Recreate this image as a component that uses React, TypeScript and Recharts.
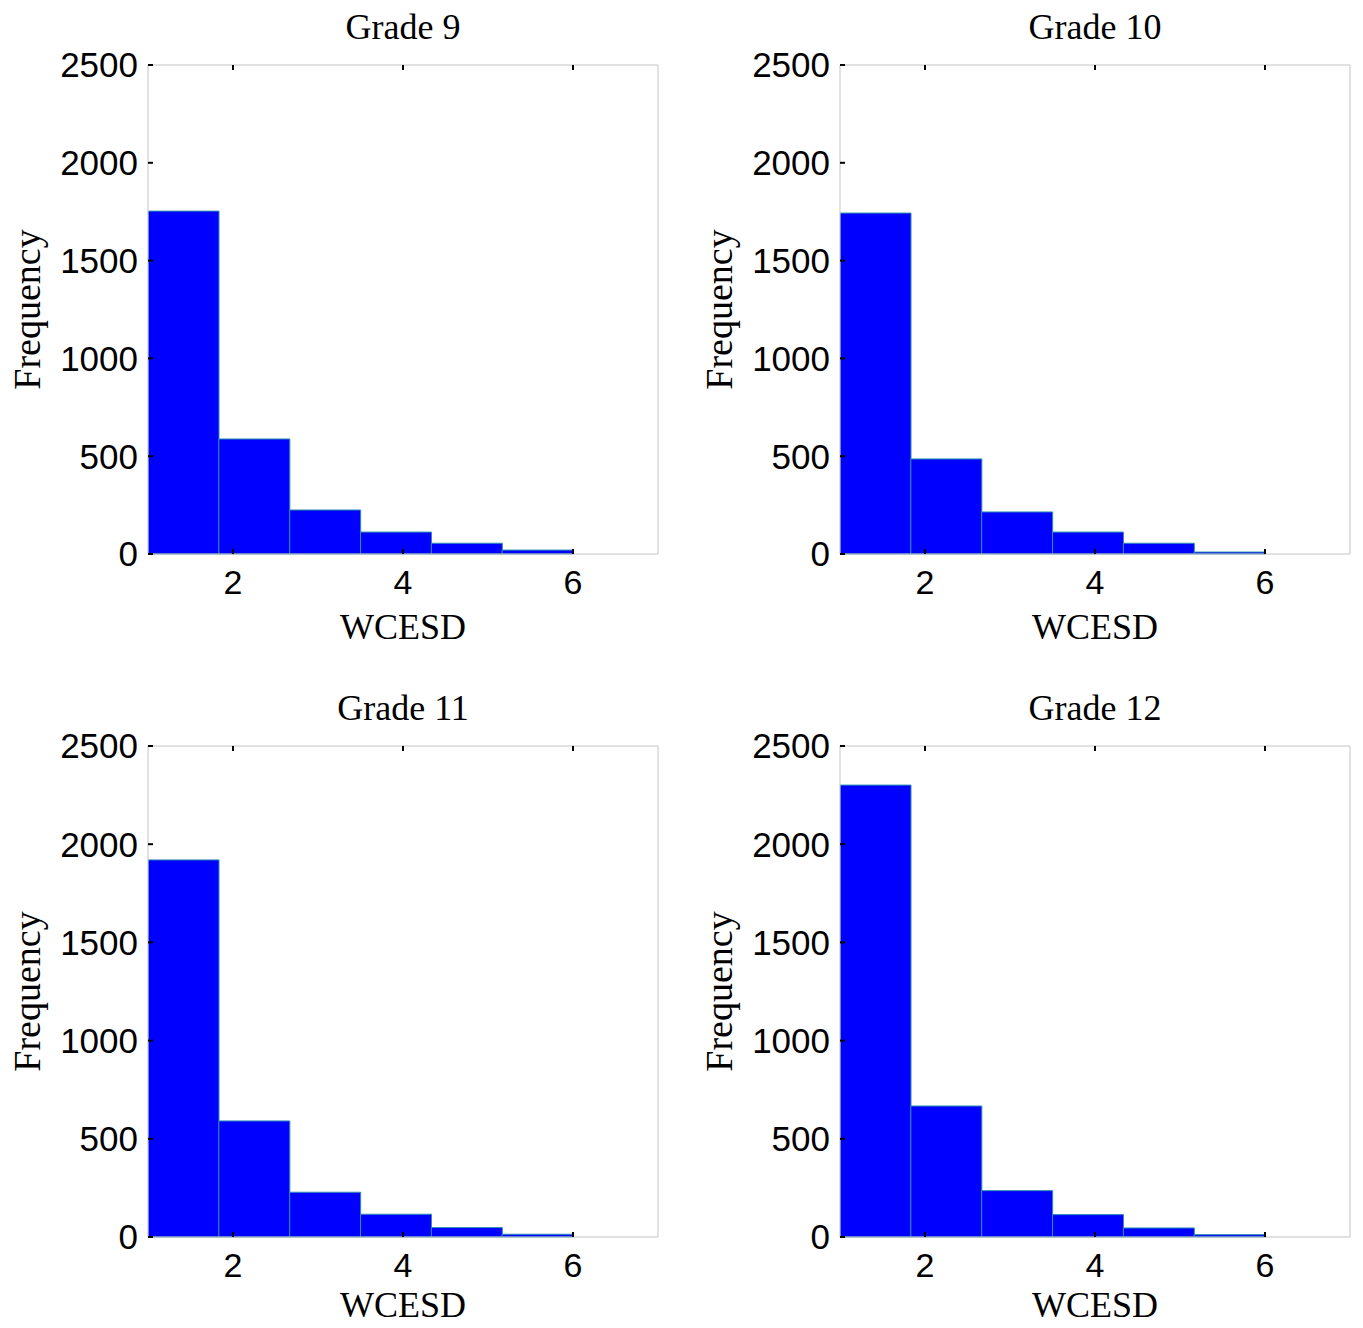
import React from "react";
import {
  ComposedChart,
  Bar,
  XAxis,
  YAxis,
} from "recharts";

// bin centres of the 6 WCESD bins (1 .. 6)
const binCenters = [1.4167, 2.25, 3.0833, 3.9167, 4.75, 5.5833];

const grade9 = [1753, 588, 225, 112, 55, 20];
const grade10 = [1743, 486, 215, 112, 55, 10];
const grade11 = [1920, 591, 228, 116, 48, 14];
const grade12 = [2301, 667, 236, 114, 46, 12];

const xTicks = [2, 4, 6];
const yTicks = [0, 500, 1000, 1500, 2000, 2500];

const SERIF = '"Liberation Serif", "Times New Roman", serif';
const SANS = '"Liberation Sans", Arial, sans-serif';

const frame = { stroke: "#c4c4c4", strokeWidth: 1 };
const tickMark = { stroke: "#000", strokeWidth: 2 };

// the box axes carry tick marks but no labels
const NoLabel = () => <g />;

interface PanelProps {
  title: string;
  values: number[];
  left: number;
  top: number;
  plotHeight: number;
  bottomPad: number;
  labelOffset: number;
}

function Panel({ title, values, left, top, plotHeight, bottomPad, labelOffset }: PanelProps) {
  const data = binCenters.map((x, i) => ({ x, count: values[i] }));
  const width = 670;
  const height = 65 + plotHeight + 88 + bottomPad;

  return (
    <div style={{ position: "absolute", left, top, width, height }}>
      <div
        style={{
          position: "absolute",
          left: 148,
          width: 510,
          top: 65 - 38 - 18,
          textAlign: "center",
          fontFamily: SERIF,
          fontSize: 36,
          lineHeight: "36px",
        }}
      >
        {title}
      </div>
      <ComposedChart
        width={width}
        height={height}
        data={data}
        margin={{ top: 64, right: 11, bottom: bottomPad, left: 0 }}
        barCategoryGap={0}
        barGap={0}
      >
        <XAxis
          xAxisId="bottom"
          dataKey="x"
          type="number"
          domain={[1, 7]}
          ticks={xTicks}
          allowDataOverflow
          height={88}
          axisLine={frame}
          tickLine={tickMark}
          tickSize={-5}
          tickMargin={21}
          tick={{ fill: "#000", fontSize: 34, fontFamily: SANS }}
          label={{
            value: "WCESD",
            position: "insideBottom",
            offset: labelOffset,
            style: { fill: "#000", fontSize: 36, fontFamily: SERIF },
          }}
        />
        <XAxis
          xAxisId="top"
          orientation="top"
          dataKey="x"
          type="number"
          domain={[1, 7]}
          ticks={xTicks}
          height={1}
          axisLine={frame}
          tickLine={tickMark}
          tickSize={-5}
          tick={NoLabel}
        />
        <YAxis
          yAxisId="left"
          domain={[0, 2500]}
          ticks={yTicks}
          width={148}
          axisLine={frame}
          tickLine={tickMark}
          tickSize={-5}
          tickMargin={15}
          tick={{ fill: "#000", fontSize: 35, fontFamily: SANS }}
          label={{
            value: "Frequency",
            angle: -90,
            position: "insideLeft",
            offset: 27,
            style: {
              textAnchor: "middle",
              fill: "#000",
              fontSize: 38,
              fontFamily: SERIF,
            },
          }}
        />
        <YAxis
          yAxisId="right"
          orientation="right"
          domain={[0, 2500]}
          ticks={yTicks}
          width={1}
          axisLine={frame}
          tickLine={tickMark}
          tickSize={-5}
          tick={NoLabel}
        />
        <Bar
          xAxisId="bottom"
          yAxisId="left"
          dataKey="count"
          fill="#0000ff"
          stroke="#2f8fb0"
          strokeWidth={1}
          isAnimationActive={false}
        />
      </ComposedChart>
    </div>
  );
}

export default function App() {
  return (
    <div
      style={{
        position: "absolute",
        left: 0,
        top: 0,
        width: 1363,
        height: 1328,
        overflow: "hidden",
        background: "#fff",
      }}
    >
      <Panel title="Grade 9" values={grade9} left={0} top={0} plotHeight={489} bottomPad={12} labelOffset={3} />
      <Panel title="Grade 10" values={grade10} left={692} top={0} plotHeight={489} bottomPad={12} labelOffset={3} />
      <Panel title="Grade 11" values={grade11} left={0} top={681} plotHeight={491} bottomPad={3} labelOffset={8} />
      <Panel title="Grade 12" values={grade12} left={692} top={681} plotHeight={491} bottomPad={3} labelOffset={8} />
    </div>
  );
}
